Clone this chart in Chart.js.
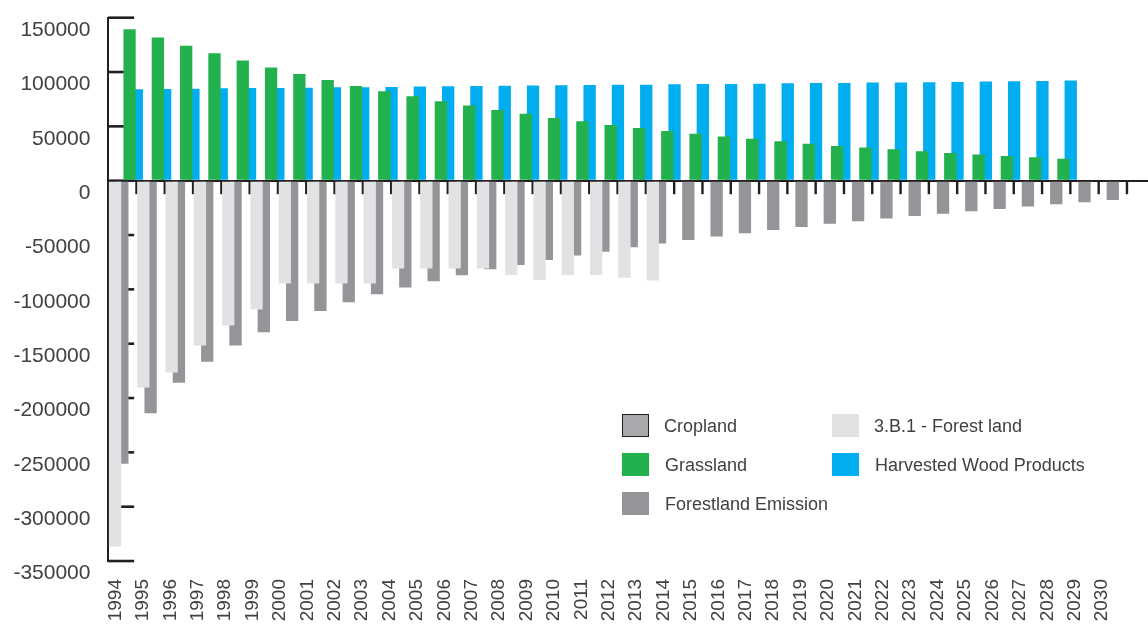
<!DOCTYPE html>
<html>
<head>
<meta charset="utf-8">
<title>Land use sector</title>
<script src="https://cdn.jsdelivr.net/npm/chart.js@4.4.1/dist/chart.umd.min.js"></script>
<style>
      html, body { margin: 0; padding: 0; background: #ffffff; }
      #wrap { position: relative; width: 1148px; height: 624px; overflow: hidden; }
      #legend { position: absolute; left: 0; top: 0; font-family: 'Liberation Sans', Arial, sans-serif; font-size: 18px; color: #414042; }
      .legend_item { position: absolute; height: 23px; white-space: nowrap; }
      .legend_box { position: absolute; left: 0; top: 0; width: 27px; height: 23px; box-sizing: border-box; }
      .legend_text { position: absolute; top: 1px; line-height: 23px; }
</style>
</head>
<body>
<div id="wrap">
      <canvas id="land_chart" width="1148" height="624"></canvas>
      <div id="legend"></div>
</div>
<script>
const years = ['1994', '1995', '1996', '1997', '1998', '1999', '2000', '2001', '2002', '2003',
      '2004', '2005', '2006', '2007', '2008', '2009', '2010', '2011', '2012', '2013',
      '2014', '2015', '2016', '2017', '2018', '2019', '2020', '2021', '2022', '2023',
      '2024', '2025', '2026', '2027', '2028', '2029', '2030'];

const cropland = [0, 0, 0, 0, 0, 0, 0, 0, 0, 0, 0, 0, 0, 0, 0, 0, 0, 0, 0, 0,
      0, 0, 0, 0, 0, 0, 0, 0, 0, 0, 0, 0, 0, 0, 0, 0, null];

const forest_land = [-336600, -190300, -176500, -151700, -133300, -118600, -94700, -94700, -94700, -94700,
      -80900, -80900, -80900, -80900, -86700, -91300, -86700, -86700, -89400, -91900,
      null, null, null, null, null, null, null, null, null, null, null, null, null, null, null, null, null];

const forestland_emission = [-260500, -213900, -186000, -166700, -151700, -139400, -129000, -119800, -111800, -104400,
      -98300, -92500, -86900, -81600, -77500, -72900, -68900, -65300, -61300, -57700,
      -54500, -51400, -48300, -45300, -42500, -39700, -37300, -34900, -32400, -30300,
      -28100, -26000, -23800, -21600, -19800, -17700, null];

const grassland = [139400, 131700, 124300, 117300, 110500, 104100, 98300, 92700, 87200, 82400,
      77700, 73100, 69100, 65100, 61500, 57800, 54700, 51300, 48600, 45800,
      43100, 40600, 38500, 36300, 34100, 32000, 30500, 29000, 27100, 25600,
      24000, 22800, 21600, 20100, null, null, null];

const harvested_wood = [84200, 84500, 84700, 85100, 85200, 85400, 85600, 85900, 86100, 86300,
      86600, 86900, 87200, 87400, 87600, 87900, 88000, 88200, 88400, 88700,
      88900, 89100, 89300, 89600, 89800, 90000, 90300, 90400, 90600, 90900,
      91200, 91500, 91800, 92100, null, null, null];

const y_min = -350000;
const y_max = 150000;
const y_step = 50000;

const ink = '#231f20';
const text_color = '#414042';

// width of one year slot; the last slot runs past the right edge of the canvas
const slot_width = 28.3;

Chart.defaults.font.family = "'Liberation Sans', Arial, sans-serif";

// layout padding cannot go negative, so the year scales are widened after layout
const stretch_x = {
      id: 'stretch_x',
      afterLayout: function (chart)
      {
            const x = chart.scales.x;
            const t = chart.scales.year_axis;
            x.right = x.left + slot_width * years.length;
            x.width = x.right - x.left;
            x.configure();
            t.left = x.left;
            t.right = x.right;
            t.width = x.width;
            t.configure();
      }
};

// inward ticks on the y axis and short marks under the zero line between years
const axis_marks = {
      id: 'axis_marks',
      beforeDatasetsDraw: function (chart)
      {
            const ctx = chart.ctx;
            const area = chart.chartArea;
            const x = chart.scales.x;
            const y = chart.scales.y;

            ctx.save();
            ctx.strokeStyle = ink;
            ctx.lineWidth = 2.6;
            for (let i = 0; i < y.ticks.length; i++)
            {
                  const py = y.getPixelForValue(y.ticks[i].value);
                  ctx.beginPath();
                  ctx.moveTo(area.left, py);
                  ctx.lineTo(area.left + 26, py);
                  ctx.stroke();
            }

            const zero = y.getPixelForValue(0);
            ctx.lineWidth = 2.4;
            for (let i = 1; i < years.length; i++)
            {
                  const px = (x.getPixelForValue(i - 1) + x.getPixelForValue(i)) / 2;
                  ctx.beginPath();
                  ctx.moveTo(px, zero);
                  ctx.lineTo(px, zero + 13.5);
                  ctx.stroke();
            }
            ctx.restore();
      }
};

const config_data = {
      labels: years,
      datasets: [
            {
                  label: 'Cropland',
                  data: cropland,
                  backgroundColor: '#a7a9ac',
                  borderColor: ink
            },
            {
                  label: '3.B.1 - Forest land',
                  data: forest_land,
                  backgroundColor: '#e1e2e3'
            },
            {
                  label: 'Forestland Emission',
                  data: forestland_emission,
                  backgroundColor: '#939598'
            },
            {
                  label: 'Grassland',
                  data: grassland,
                  backgroundColor: '#23b14d'
            },
            {
                  label: 'Harvested Wood Products',
                  data: harvested_wood,
                  backgroundColor: '#00aeef'
            }
      ]
};

const config = {
      type: 'bar',
      data: config_data,
      options: {
            responsive: false,
            animation: false,
            categoryPercentage: 1.282,
            barPercentage: 1.697,
            borderWidth: 0,
            layout: {
                  padding: { left: -4.3, right: 0, top: 17.7, bottom: -15.3 }
            },
            scales: {
                  x: {
                        display: false
                  },
                  year_axis: {
                        type: 'linear',
                        position: 'bottom',
                        offset: false,
                        min: -0.266,
                        max: 37.94,
                        afterBuildTicks: function (axis)
                        {
                              axis.ticks = years.map(function (label, i) { return { value: i }; });
                        },
                        afterFit: function (axis)
                        {
                              axis.paddingLeft = 0;
                              axis.paddingRight = 0;
                        },
                        grid: { display: false, drawTicks: false, offset: false },
                        border: { display: false },
                        ticks: {
                              autoSkip: false,
                              minRotation: 90,
                              maxRotation: 90,
                              padding: 18,
                              color: text_color,
                              font: { size: 19 },
                              callback: function (value) { return years[value]; }
                        }
                  },
                  y: {
                        min: y_min,
                        max: y_max,
                        afterFit: function (axis)
                        {
                              axis.paddingTop = 0;
                              axis.paddingBottom = 0;
                        },
                        border: { display: true, color: ink, width: 2 },
                        grid: {
                              drawTicks: false,
                              lineWidth: 2,
                              color: function (c)
                              {
                                    return c.tick && c.tick.value === 0 ? ink : 'rgba(0,0,0,0)';
                              }
                        },
                        ticks: {
                              stepSize: y_step,
                              padding: 17.7,
                              labelOffset: 12.5,
                              color: text_color,
                              font: { size: 21 },
                              callback: function (value) { return String(value); }
                        }
                  }
            },
            plugins: {
                  legend: { display: false },
                  tooltip: { enabled: false }
            }
      },
      plugins: [stretch_x, axis_marks]
};

const land_chart = new Chart(document.getElementById('land_chart'), config);

// legend in two columns, built from the datasets
const legend_layout = [
      { dataset: 0, left: 622, top: 414, text_left: 42 },
      { dataset: 3, left: 622, top: 453, text_left: 43 },
      { dataset: 2, left: 622, top: 492, text_left: 43 },
      { dataset: 1, left: 832, top: 414, text_left: 42 },
      { dataset: 4, left: 832, top: 453, text_left: 43 }
];

const legend = document.getElementById('legend');
legend_layout.forEach(function (item)
{
      const ds = config_data.datasets[item.dataset];
      const row = document.createElement('div');
      row.className = 'legend_item';
      row.style.left = item.left + 'px';
      row.style.top = item.top + 'px';

      const box = document.createElement('div');
      box.className = 'legend_box';
      box.style.background = ds.backgroundColor;
      if (ds.borderColor)
      {
            box.style.border = '1.5px solid ' + ds.borderColor;
      }

      const text = document.createElement('div');
      text.className = 'legend_text';
      text.style.left = item.text_left + 'px';
      text.textContent = ds.label;

      row.appendChild(box);
      row.appendChild(text);
      legend.appendChild(row);
});
</script>
</body>
</html>
